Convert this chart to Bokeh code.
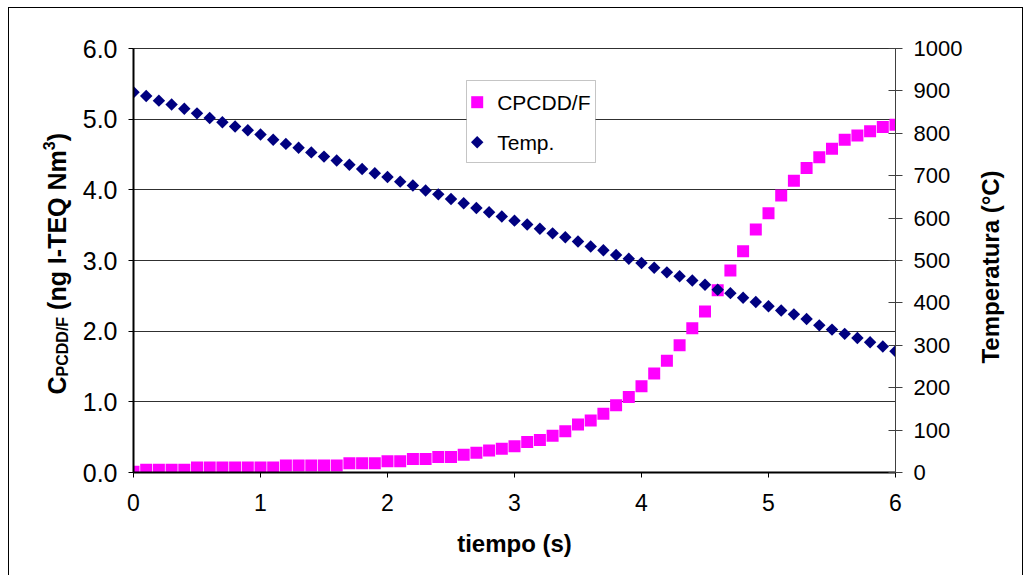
import numpy as np
from bokeh.plotting import figure
from bokeh.layouts import row
from bokeh.models import (Range1d, LinearAxis, Label, BoxAnnotation, FixedTicker,
                          NumeralTickFormatter)
from bokeh.core.properties import value
from bokeh.embed import file_html
from bokeh.resources import INLINE

# ---------------- data ----------------
tiempo = [round(0.1 * i, 1) for i in range(61)]
cpcdd = [0.01, 0.04, 0.04, 0.04, 0.04,
         0.07, 0.07, 0.07, 0.07, 0.07, 0.07, 0.07,
         0.10, 0.10, 0.10, 0.10, 0.10,
         0.13, 0.13, 0.13, 0.16, 0.16, 0.19, 0.19, 0.22, 0.22,
         0.25, 0.28, 0.31, 0.335, 0.37, 0.43, 0.46, 0.52, 0.585, 0.68,
         0.735, 0.83, 0.95, 1.07, 1.22, 1.40, 1.58, 1.80, 2.04, 2.28,
         2.58, 2.86, 3.13, 3.44, 3.67, 3.92, 4.13, 4.31, 4.46, 4.58,
         4.71, 4.77, 4.83, 4.89, 4.92]
temp = [897, 888, 877, 868, 858, 847, 836, 826, 816, 807,
        797, 785, 775, 766, 755, 745, 736, 726, 716, 706,
        697, 686, 677, 665, 656, 645, 635, 624, 614, 604,
        594, 585, 575, 564, 555, 545, 533, 524, 513, 504,
        494, 483, 472, 463, 453, 443, 431, 423, 412, 402,
        392, 382, 373, 362, 347, 337, 327, 317, 307, 297, 286]
x_ticks = [0, 1, 2, 3, 4, 5, 6]
left_ticks = [0, 1, 2, 3, 4, 5, 6]
right_ticks = [0, 100, 200, 300, 400, 500, 600, 700, 800, 900, 1000]
series_names = ["CPCDD/F", "Temp."]
x_title = "tiempo (s)"
right_title = "Temperatura (°C)"
left_title_parts = ["C", "PCDD/F", "(ng I-TEQ Nm", "3", ")"]

# ---------------- layout (page pixels) ----------------
OX, OY = 9, 8                 # inner top-left of bordered area
H = 570
LW, MW, RW = 70, 893, 50      # widths of title strip / main chart / title strip
FRAME_L, FRAME_R, FRAME_T, FRAME_B = 133, 895, 48, 472
PX = (FRAME_R - FRAME_L) / 6.0
PY = (FRAME_B - FRAME_T) / 6.0

def dx(px):
    return (px - FRAME_L) / PX

def dy(py):
    return (FRAME_B - py) / PY

FONT = "Liberation Sans"
PINK = "#FF00FF"
NAVY = "#000080"

main_left = FRAME_L - (OX + LW)
main_right = (OX + LW + MW) - FRAME_R
p = figure(width=MW, height=H, output_backend="svg", toolbar_location=None,
           x_range=Range1d(0, 6), y_range=Range1d(0, 6),
           min_border_left=main_left, min_border_right=main_right,
           min_border_top=FRAME_T - OY, min_border_bottom=OY + H - FRAME_B,
           background_fill_color="white", border_fill_color="white")
p.outline_line_color = "#303030"
p.outline_line_width = 1
p.extra_y_ranges = {"temp": Range1d(0, 1000)}

p.xgrid.visible = False
p.ygrid.ticker = FixedTicker(ticks=left_ticks)
p.ygrid.grid_line_color = "#303030"
p.ygrid.grid_line_width = 1

xa = p.xaxis[0]
xa.ticker = FixedTicker(ticks=x_ticks)
xa.axis_line_color = "black"
xa.axis_line_width = 2
xa.major_tick_in = 0
xa.major_tick_out = 5
xa.minor_tick_line_color = None
xa.major_label_text_font = FONT
xa.major_label_text_font_size = "23px"
xa.major_label_text_color = "black"
xa.major_label_standoff = 16
xa.axis_label = x_title
xa.axis_label_text_font = FONT
xa.axis_label_text_font_style = "bold"
xa.axis_label_text_font_size = "24px"
xa.axis_label_text_color = "black"
xa.axis_label_standoff = 16

ya = p.yaxis[0]
ya.ticker = FixedTicker(ticks=left_ticks)
ya.formatter = NumeralTickFormatter(format="0.0")
ya.axis_line_color = "black"
ya.axis_line_width = 2
ya.major_tick_in = 0
ya.major_tick_out = 5
ya.minor_tick_line_color = None
ya.major_label_text_font = FONT
ya.major_label_text_font_size = "25px"
ya.major_label_text_color = "black"
ya.major_label_standoff = 11

ra = LinearAxis(y_range_name="temp", ticker=FixedTicker(ticks=right_ticks))
ra.axis_line_color = "#404040"
ra.axis_line_width = 1
ra.major_tick_line_color = "#404040"
ra.major_tick_in = 7
ra.major_tick_out = 7
ra.minor_tick_line_color = None
ra.major_label_text_font = FONT
ra.major_label_text_font_size = "22px"
ra.major_label_text_color = "black"
ra.major_label_standoff = 11
p.add_layout(ra, "right")

p.scatter(tiempo, cpcdd, marker="square", size=12, fill_color=PINK, line_color=None)
p.scatter(tiempo, temp, y_range_name="temp", marker="square", size=8.8,
          angle=np.pi / 4, fill_color=NAVY, line_color=None)

# legend drawn by hand (square-diamond symbol)
box = BoxAnnotation(left=dx(466), right=dx(595), top=dy(80), bottom=dy(162),
                    fill_color="white", fill_alpha=1.0,
                    line_color="#404040", line_width=1)
p.add_layout(box)
p.scatter([dx(476.7)], [dy(101.7)], marker="square", size=12,
          fill_color=PINK, line_color=None, level="overlay")
p.scatter([dx(476.7)], [dy(141.7)], marker="square", size=8.8, angle=np.pi / 4,
          fill_color=NAVY, line_color=None, level="overlay")
for name, py in zip(series_names, [101.7, 141.7]):
    p.add_layout(Label(x=dx(496.7), y=dy(py), text=name, text_font=FONT,
                       text_font_size="21px", text_color="black",
                       text_align="left", text_baseline="middle"))

# title strips: their frames are aligned with the main frame by the row layout,
# so they share the main chart's vertical data scale (0..6)
def strip(width):
    f = figure(width=width, height=H, output_backend="svg", toolbar_location=None,
               x_range=Range1d(0, width), y_range=Range1d(0, 6),
               x_axis_type=None, y_axis_type=None,
               min_border=0, background_fill_color="white",
               border_fill_color="white")
    f.grid.visible = False
    f.outline_line_color = None
    return f

# left title strip: C_PCDD/F (ng I-TEQ Nm^3)
lf = strip(LW)
sizes = [25, 16, 25, 16, 25]
xcent = [56, 62, 56, 48, 56]           # page x of the text centre line
ems = [0.722, 3.722, 6.389, 0.556, 0.333]
gaps = [0.0, 0.0, 0.278 * 25, 0.0, 0.0]  # word space before a part
py = 394.0
for txt, fs, xc, em, gap in zip(left_title_parts, sizes, xcent, ems, gaps):
    py -= gap
    lf.text(x=[xc - OX], y=[dy(py)], text=[txt], angle=np.pi / 2,
            text_font=value(FONT), text_font_style="bold",
            text_font_size=f"{fs}px", text_color="black",
            text_align="left", text_baseline="middle")
    py -= em * fs

# right title strip
rf = strip(RW)
rf.text(x=[990 - (OX + LW + MW)], y=[dy(266.5)], text=[right_title],
        angle=np.pi / 2, text_font=value(FONT), text_font_style="bold",
        text_font_size="24px", text_color="black",
        text_align="center", text_baseline="middle")

lay = row(lf, p, rf, spacing=0)
lay.styles = {"border": "1px solid #000000", "margin-left": "8px", "margin-top": "7px"}

open("out.html", "w").write(file_html(lay, INLINE))
